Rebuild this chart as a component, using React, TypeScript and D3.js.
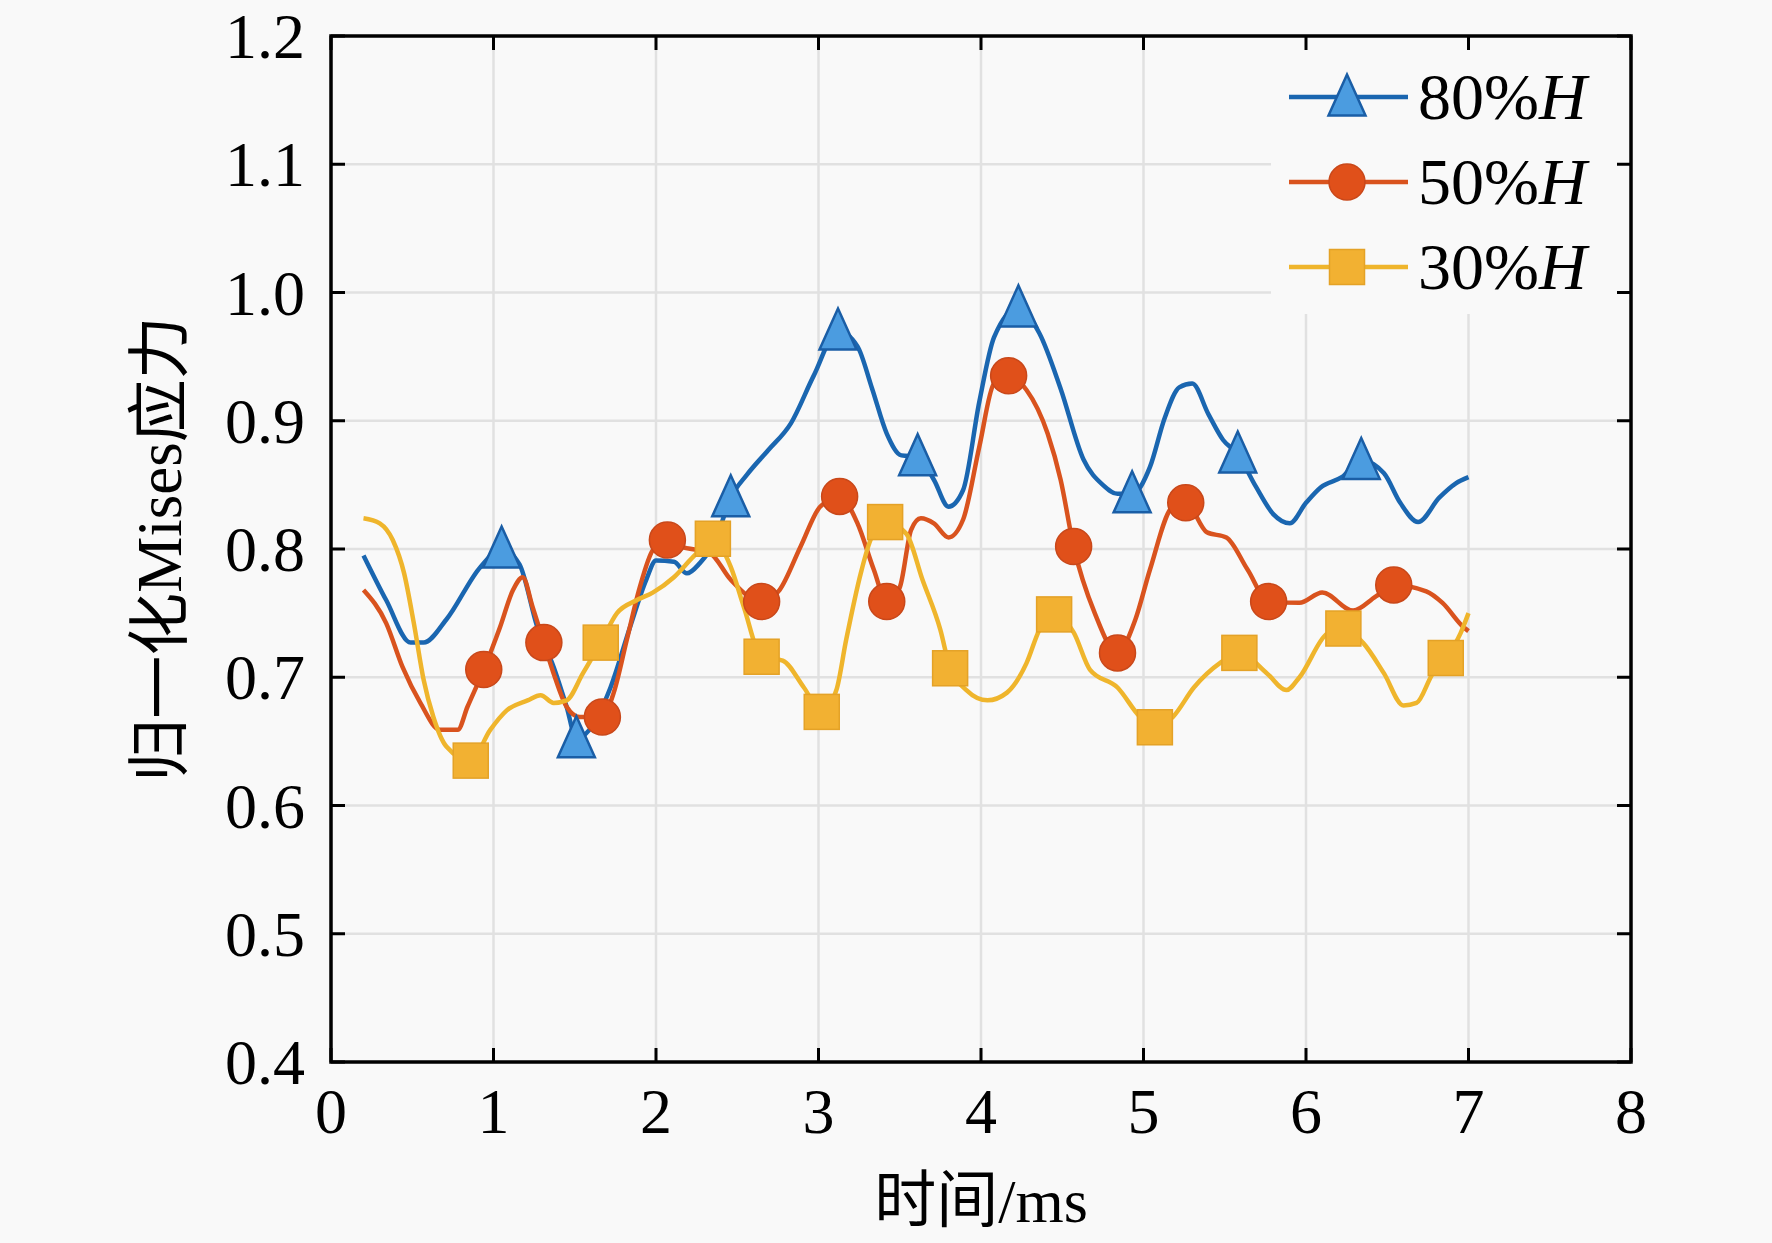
import React from "react";
import * as d3 from "d3";

// ---- data ----
const t80 = [0.2, 0.34, 0.49, 0.57, 0.71, 0.92, 1.05, 1.16, 1.27, 1.37, 1.45, 1.51, 1.59, 1.72, 1.84, 1.94, 2.0, 2.11, 2.19, 2.27, 2.36, 2.46, 2.56, 2.69, 2.83, 2.97, 3.12, 3.24, 3.33, 3.42, 3.51, 3.61, 3.71, 3.8, 3.89, 3.99, 4.08, 4.23, 4.36, 4.49, 4.63, 4.75, 4.84, 4.93, 5.04, 5.13, 5.22, 5.3, 5.4, 5.49, 5.58, 5.69, 5.8, 5.9, 6.0, 6.09, 6.22, 6.34, 6.48, 6.58, 6.69, 6.82, 6.92, 7.0];
const v80 = [0.795, 0.76, 0.727, 0.727, 0.745, 0.786, 0.8, 0.788, 0.739, 0.708, 0.677, 0.652, 0.659, 0.692, 0.739, 0.776, 0.791, 0.79, 0.781, 0.789, 0.805, 0.84, 0.858, 0.877, 0.898, 0.935, 0.97, 0.958, 0.925, 0.89, 0.873, 0.872, 0.854, 0.833, 0.846, 0.915, 0.965, 0.988, 0.968, 0.925, 0.87, 0.85, 0.843, 0.843, 0.864, 0.902, 0.926, 0.929, 0.905, 0.885, 0.874, 0.849, 0.827, 0.82, 0.836, 0.848, 0.856, 0.869, 0.859, 0.836, 0.821, 0.84, 0.851, 0.856];
const mark80 = [1.05, 1.51, 2.46, 3.12, 3.61, 4.23, 4.93, 5.58, 6.34];

const t50 = [0.2, 0.34, 0.44, 0.55, 0.67, 0.78, 0.84, 0.94, 1.04, 1.12, 1.18, 1.24, 1.31, 1.37, 1.45, 1.53, 1.67, 1.74, 1.82, 1.9, 1.98, 2.07, 2.15, 2.33, 2.46, 2.65, 2.76, 2.89, 3.01, 3.13, 3.24, 3.34, 3.42, 3.5, 3.57, 3.63, 3.71, 3.8, 3.89, 3.99, 4.08, 4.17, 4.28, 4.41, 4.49, 4.57, 4.7, 4.84, 4.95, 5.04, 5.18, 5.26, 5.39, 5.51, 5.64, 5.77, 5.96, 6.1, 6.29, 6.43, 6.54, 6.74, 6.84, 6.97, 7.0];
const v50 = [0.768, 0.742, 0.708, 0.68, 0.659, 0.659, 0.677, 0.706, 0.739, 0.768, 0.778, 0.755, 0.727, 0.703, 0.677, 0.669, 0.669, 0.688, 0.729, 0.77, 0.799, 0.807, 0.802, 0.797, 0.776, 0.759, 0.768, 0.802, 0.833, 0.841, 0.82, 0.784, 0.759, 0.77, 0.815, 0.824, 0.82, 0.809, 0.823, 0.88, 0.929, 0.935, 0.924, 0.89, 0.854, 0.802, 0.75, 0.719, 0.745, 0.784, 0.833, 0.836, 0.813, 0.809, 0.784, 0.759, 0.758, 0.766, 0.752, 0.763, 0.772, 0.767, 0.758, 0.739, 0.736];
const mark50 = [0.94, 1.31, 1.67, 2.07, 2.65, 3.13, 3.42, 4.17, 4.57, 4.84, 5.26, 5.77, 6.54];

const t30 = [0.2, 0.3, 0.38, 0.45, 0.51, 0.57, 0.63, 0.71, 0.86, 0.98, 1.08, 1.21, 1.29, 1.37, 1.45, 1.55, 1.66, 1.76, 1.88, 1.98, 2.11, 2.23, 2.35, 2.46, 2.54, 2.65, 2.78, 2.91, 3.02, 3.11, 3.17, 3.26, 3.32, 3.41, 3.54, 3.64, 3.75, 3.81, 3.91, 4.04, 4.16, 4.28, 4.36, 4.45, 4.57, 4.67, 4.84, 4.98, 5.07, 5.18, 5.31, 5.47, 5.59, 5.76, 5.88, 5.96, 6.13, 6.23, 6.35, 6.48, 6.6, 6.68, 6.78, 6.86, 6.95, 7.0];
const v30 = [0.824, 0.82, 0.807, 0.781, 0.742, 0.698, 0.669, 0.646, 0.635, 0.659, 0.674, 0.682, 0.686, 0.68, 0.682, 0.703, 0.727, 0.75, 0.76, 0.766, 0.778, 0.794, 0.808, 0.786, 0.755, 0.716, 0.713, 0.692, 0.673, 0.69, 0.729, 0.781, 0.807, 0.821, 0.812, 0.776, 0.737, 0.707, 0.69, 0.682, 0.688, 0.711, 0.737, 0.749, 0.735, 0.706, 0.692, 0.669, 0.661, 0.669, 0.692, 0.711, 0.719, 0.703, 0.69, 0.7, 0.734, 0.738, 0.727, 0.703, 0.678, 0.68, 0.703, 0.715, 0.734, 0.75];
const mark30 = [0.86, 1.66, 2.35, 2.65, 3.02, 3.41, 3.81, 4.45, 5.07, 5.59, 6.23, 6.86];

const seriesNames = ["80%", "50%", "30%"];
const xTicks = [0, 1, 2, 3, 4, 5, 6, 7, 8];
const yTicks = [0.4, 0.5, 0.6, 0.7, 0.8, 0.9, 1.0, 1.1, 1.2];
const xTitleCN = "时间";
const xTitleUnit = "/ms";
const yTitle = "归一化Mises应力";

// ---- layout ----
const W = 1772;
const H = 1243;
const L = 331, R = 1631, T = 36, B = 1062;
const BG = "#f9f9f9";
const FONT = "'Liberation Serif', 'Times New Roman', 'Noto Sans CJK SC', serif";

const styles = [
  { line: "#1a66b0", fill: "#4b9ce0", edge: "#1a5ea6", shape: "tri" },
  { line: "#d9531e", fill: "#e0501a", edge: "#c9481a", shape: "circle" },
  { line: "#efb52c", fill: "#f2b132", edge: "#e4a227", shape: "square" },
];

function Marker({ shape, x, y, fill, edge }: any) {
  if (shape === "tri") {
    const w = 37, h = 41;
    const pts = `${x},${y - h / 2 - 2} ${x - w / 2},${y + h / 2 - 2} ${x + w / 2},${y + h / 2 - 2}`;
    return <polygon points={pts} fill={fill} stroke={edge} strokeWidth={2.5} strokeLinejoin="miter" />;
  }
  if (shape === "circle") {
    return <circle cx={x} cy={y} r={18} fill={fill} stroke={edge} strokeWidth={1.5} />;
  }
  return <rect x={x - 17.5} y={y - 17.5} width={35} height={35} fill={fill} stroke={edge} strokeWidth={1.5} />;
}

export default function App() {
  const x = d3.scaleLinear().domain([0, 8]).range([L, R]);
  const y = d3.scaleLinear().domain([0.4, 1.2]).range([B, T]);

  const data = [
    { t: t80, v: v80, m: mark80 },
    { t: t50, v: v50, m: mark50 },
    { t: t30, v: v30, m: mark30 },
  ];

  const line = d3
    .line<[number, number]>()
    .x((d) => x(d[0]))
    .y((d) => y(d[1]))
    .curve(d3.curveMonotoneX);

  const lookup = (ts: number[], vs: number[], tm: number) => {
    let best = 0;
    ts.forEach((tt, i) => {
      if (Math.abs(tt - tm) < Math.abs(ts[best] - tm)) best = i;
    });
    return vs[best];
  };

  const legendRows = [97, 182, 267];
  const tickLen = 14;
  const lw = 4.5;

  return (
    <svg width={W} height={H} style={{ position: "absolute", left: 0, top: 0 }} fontFamily={FONT}>
      <rect x={0} y={0} width={W} height={H} fill={BG} />
      {/* grid */}
      {xTicks.slice(1, -1).map((t) => (
        <line key={"gx" + t} x1={x(t)} x2={x(t)} y1={T} y2={B} stroke="#e1e1e1" strokeWidth={2.5} />
      ))}
      {yTicks.slice(1, -1).map((v) => (
        <line key={"gy" + v} x1={L} x2={R} y1={y(v)} y2={y(v)} stroke="#e1e1e1" strokeWidth={2.5} />
      ))}
      {/* legend background (hides grid) */}
      <rect x={1271} y={T + 2} width={R - 1271 - 2} height={312 - T} fill={BG} />

      {/* series */}
      {data.map((s, si) => {
        const pts: [number, number][] = s.t.map((tt, i) => [tt, s.v[i]]);
        return (
          <g key={"s" + si}>
            <path d={line(pts) || ""} fill="none" stroke={styles[si].line} strokeWidth={lw} strokeLinejoin="round" />
          </g>
        );
      })}
      {data.map((s, si) => (
        <g key={"m" + si}>
          {s.m.map((tm, i) => (
            <Marker
              key={i}
              shape={styles[si].shape}
              x={x(tm)}
              y={y(lookup(s.t, s.v, tm))}
              fill={styles[si].fill}
              edge={styles[si].edge}
            />
          ))}
        </g>
      ))}

      {/* frame */}
      <rect x={L} y={T} width={R - L} height={B - T} fill="none" stroke="#000" strokeWidth={3.5} />
      {/* ticks */}
      {xTicks.map((t) => (
        <g key={"xt" + t}>
          <line x1={x(t)} x2={x(t)} y1={B} y2={B - tickLen} stroke="#000" strokeWidth={3} />
          <line x1={x(t)} x2={x(t)} y1={T} y2={T + tickLen} stroke="#000" strokeWidth={3} />
          <text x={x(t)} y={1133} fontSize={64} textAnchor="middle" fill="#000">
            {t}
          </text>
        </g>
      ))}
      {yTicks.map((v) => (
        <g key={"yt" + v}>
          <line x1={L} x2={L + tickLen} y1={y(v)} y2={y(v)} stroke="#000" strokeWidth={3} />
          <line x1={R} x2={R - tickLen} y1={y(v)} y2={y(v)} stroke="#000" strokeWidth={3} />
          <text x={305} y={y(v) + 22} fontSize={64} textAnchor="end" fill="#000">
            {v.toFixed(1)}
          </text>
        </g>
      ))}

      {/* axis titles */}
      <text x={(L + R) / 2} y={1222} fontSize={62} textAnchor="middle" fill="#000">
        <tspan fontFamily="'Noto Sans CJK SC', sans-serif">{xTitleCN}</tspan>
        <tspan>{xTitleUnit}</tspan>
      </text>
      <text
        transform={`translate(181, ${(T + B) / 2}) rotate(-90)`}
        fontSize={63}
        textAnchor="middle"
        fill="#000"
      >
        <tspan fontFamily="'Noto Sans CJK SC', sans-serif">{yTitle.slice(0, 3)}</tspan>
        <tspan>{yTitle.slice(3, 8)}</tspan>
        <tspan fontFamily="'Noto Sans CJK SC', sans-serif">{yTitle.slice(8)}</tspan>
      </text>

      {/* legend */}
      {seriesNames.map((n, i) => (
        <g key={"lg" + i}>
          <line x1={1289} x2={1408} y1={legendRows[i]} y2={legendRows[i]} stroke={styles[i].line} strokeWidth={lw} />
          <Marker shape={styles[i].shape} x={1347} y={legendRows[i]} fill={styles[i].fill} edge={styles[i].edge} />
          <text x={1418} y={legendRows[i] + 22} fontSize={66} fill="#000">
            {n}
            <tspan fontStyle="italic">H</tspan>
          </text>
        </g>
      ))}
    </svg>
  );
}
